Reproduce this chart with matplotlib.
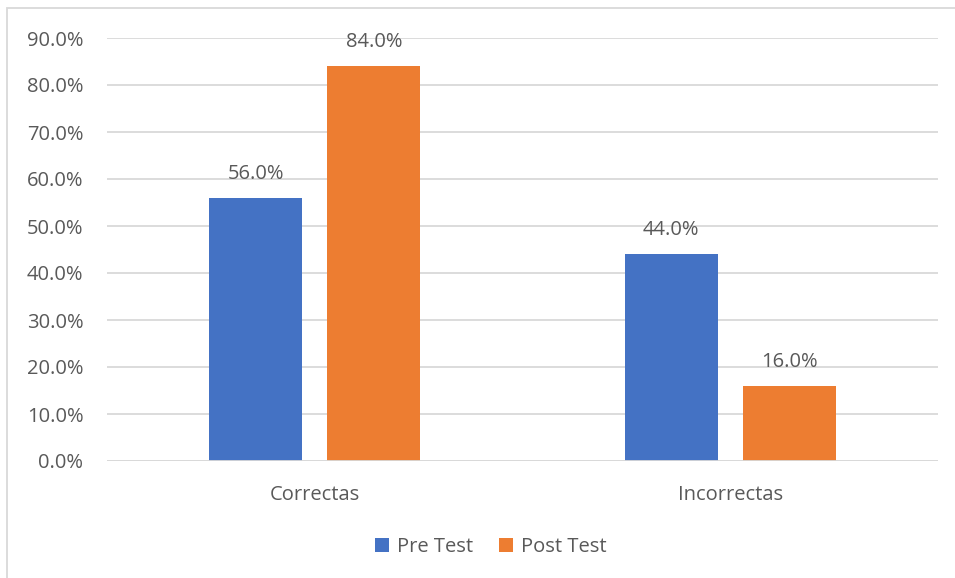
import matplotlib
matplotlib.use("Agg")
import matplotlib.pyplot as plt
import numpy as np
from matplotlib.patches import Rectangle

categories = ["Correctas", "Incorrectas"]
series_names = ["Pre Test", "Post Test"]
pre_test = [56.0, 44.0]
post_test = [84.0, 16.0]
y_ticks = [0, 10, 20, 30, 40, 50, 60, 70, 80, 90]

BLUE = "#4472C4"
ORANGE = "#ED7D31"
TEXT = "#595959"
GRID = "#D9D9D9"
FS = 14.5

plt.rcParams["font.family"] = ["Open Sans", "DejaVu Sans"]

W, H = 955, 578
fig = plt.figure(figsize=(W / 100, H / 100), dpi=100)
ax = fig.add_axes([107 / W, 1 - 461 / H, (938 - 107) / W, (461 - 38) / H])

x = np.arange(len(categories))
bw = 0.224
off = 0.142
b1 = ax.bar(x - off, pre_test, bw, color=BLUE, label=series_names[0], zorder=3)
b2 = ax.bar(x + off, post_test, bw, color=ORANGE, label=series_names[1], zorder=3)

for bars in (b1, b2):
    for r in bars:
        v = r.get_height()
        ax.annotate(f"{v:.1f}%", (r.get_x() + r.get_width() / 2, v),
                    xytext=(0, 10), textcoords="offset points",
                    ha="center", va="bottom", fontsize=FS, color=TEXT)

ax.set_xlim(-0.5, 1.5)
ax.set_ylim(0, 90)
ax.set_yticks(y_ticks)
ax.set_yticklabels([f"{t:.1f}%" for t in y_ticks])
ax.set_xticks(x)
ax.set_xticklabels(categories)
ax.tick_params(axis="both", length=0, labelsize=FS, labelcolor=TEXT)
ax.tick_params(axis="y", pad=17)
ax.tick_params(axis="x", pad=17)
ax.yaxis.grid(True, color=GRID, linewidth=1.3, zorder=0)
for s in ax.spines.values():
    s.set_visible(False)
ax.axhline(0, color=GRID, linewidth=1.3, zorder=4)

leg = fig.legend(handles=[b1, b2], loc="center", bbox_to_anchor=(491 / W, 1 - 547 / H),
                 ncol=2, frameon=False, fontsize=FS, handlelength=0.7, handleheight=0.7,
                 handletextpad=0.4, columnspacing=1.3)
for t in leg.get_texts():
    t.set_color(TEXT)

# chart frame
fig.patches.append(Rectangle((7 / W, -0.1), 1.2, 1 - 8 / H + 0.1, transform=fig.transFigure,
                             fill=False, edgecolor=GRID, linewidth=1.3))

fig.savefig("out.png", dpi=100)
